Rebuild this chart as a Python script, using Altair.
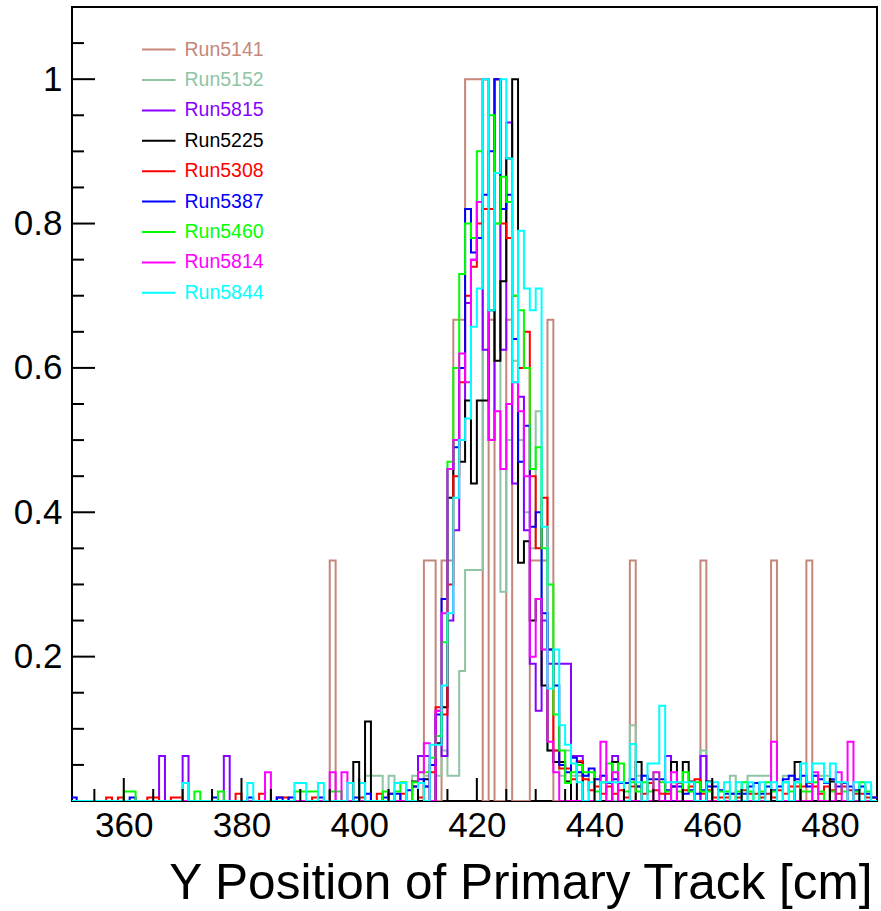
import altair as alt
import pandas as pd

# ---------------- data ----------------
BIN_LO = 351          # left edge of first drawn bin [cm]
BIN_HI = 488          # right edge of last drawn bin [cm]
X_DOMAIN = [351.2, 488.0]

runs = ["Run5141", "Run5152", "Run5815", "Run5225", "Run5308",
        "Run5387", "Run5460", "Run5814", "Run5844"]
colors = ["#c4877a", "#8fc4a4", "#8800ff", "#000000", "#ff0000",
          "#0000ff", "#00ff00", "#ff00ff", "#00ffff"]

# bin left edge -> normalised content (bins not listed are empty)
run5141 = {395: 1/3, 411: 1/3, 412: 1/3, 414: 1/3, 415: 1/3, 416: 2/3, 417: 2/3,
           418: 1.0, 419: 1.0, 420: 1.0, 422: 2/3, 425: 2/3, 429: 1/3, 430: 1/3,
           431: 1/3, 432: 2/3, 446: 1/3, 458: 1/3, 470: 1/3, 476: 1/3}

run5152 = {401: .035, 402: .035, 403: .035, 405: .035, 409: .035, 411: .035, 413: .035,
           414: .07, 415: .035, 416: .035, 417: .18, 418: .32, 419: .32, 420: .32,
           421: 1.0, 422: .68, 423: .80, 424: .29, 425: .50, 426: .61, 427: .50,
           428: .40, 429: .35, 430: .54, 431: .21, 432: .07, 433: .07, 434: .035,
           435: .07, 436: .035, 437: .035, 438: .035, 441: .035, 446: .105, 447: .035,
           448: .035, 458: .07, 463: .035, 466: .035, 467: .035, 468: .035, 469: .035,
           472: .035, 473: .035, 477: .035, 478: .035, 479: .035}

run5815 = {366: .0625, 370: .0625, 377: .0625, 410: .0625, 411: .0625, 413: .125,
           414: .0625, 415: .25, 416: .375, 417: .50, 418: .69, 419: .75, 420: .83,
           421: .625, 422: .50, 423: 1.0, 424: .625, 425: .94, 426: .44, 427: .56,
           428: .375, 429: .19, 430: .125, 431: .25, 432: .19, 433: .19, 434: .19,
           435: .19, 436: .0625, 437: .0625, 443: .0625, 452: .0625, 458: .0625}

run5225 = {399: .054, 401: .11, 409: .027, 411: .03, 413: .08, 414: .13, 415: .42,
           416: .50, 417: .47, 418: .555, 419: .44, 420: .555, 421: .555, 422: .68,
           423: .61, 424: .72, 425: .89, 426: 1.0, 427: .33, 428: .36, 429: .25,
           430: .28, 431: .16, 432: .07, 433: .054, 434: .054, 435: .027, 437: .054,
           443: .054, 447: .054, 453: .054, 455: .054, 456: .027, 459: .027, 474: .054,
           480: .027}

run5308 = {357: .005, 359: .005, 364: .005, 365: .005, 368: .005, 369: .005, 379: .01,
           383: .01, 386: .005, 387: .005, 392: .005, 400: .005, 403: .01, 405: .01,
           407: .01, 409: .02, 410: .005, 411: .02, 412: .04, 413: .13, 414: .12,
           415: .30, 416: .45, 417: .58, 418: .70, 419: .74, 420: .80, 421: .82,
           422: .82, 423: 1.0, 424: .80, 425: .78, 426: .70, 427: .60, 428: .65,
           429: .45, 430: .35, 431: .42, 432: .21, 433: .07, 434: .045, 435: .045,
           436: .03, 437: .055, 438: .03, 439: .015, 440: .02, 441: .01, 442: .02,
           443: .01, 444: .015, 445: .005, 446: .02, 447: .02, 448: .01, 449: .025,
           450: .015, 451: .01, 452: .01, 453: .02, 454: .025, 455: .015, 456: .02,
           457: .03, 458: .01, 459: .015, 460: .005, 461: .005, 462: .005, 463: .01,
           464: .005, 465: .015, 466: .01, 467: .01, 468: .005, 469: .01, 470: .005,
           471: .015, 472: .01, 473: .02, 474: .02, 475: .02, 476: .025, 477: .02,
           478: .01, 479: .02, 480: .015, 481: .01, 482: .02, 483: .015, 484: .01,
           485: .01, 486: .005, 487: .005}

run5387 = {351: .005, 361: .005, 375: .005, 381: .005, 386: .005, 388: .005, 393: .005,
           399: .005, 401: .01, 404: .005, 405: .01, 406: .01, 408: .015, 409: .02,
           410: .03, 411: .02, 412: .05, 413: .12, 414: .28, 415: .46, 416: .49,
           417: .60, 418: .82, 419: .76, 420: .78, 421: .84, 422: .90, 423: 1.0,
           424: .82, 425: .84, 426: .64, 427: .47, 428: .52, 429: .38, 430: .40,
           431: .26, 432: .21, 433: .16, 434: .05, 435: .04, 436: .06, 437: .04,
           438: .035, 439: .045, 440: .03, 441: .035, 442: .025, 443: .03, 444: .025,
           445: .025, 446: .03, 447: .02, 448: .035, 449: .03, 450: .03, 451: .03,
           452: .015, 453: .02, 454: .02, 455: .01, 456: .015, 457: .01, 458: .015,
           459: .02, 460: .02, 461: .015, 462: .01, 463: .01, 464: .01, 465: .01,
           466: .02, 467: .025, 468: .01, 469: .02, 470: .015, 471: .02, 472: .03,
           473: .035, 474: .03, 475: .035, 476: .02, 477: .035, 478: .03, 479: .025,
           480: .03, 481: .02, 482: .025, 483: .02, 484: .015, 485: .02, 486: .01,
           487: .005}

run5460 = {360: .013, 361: .013, 372: .013, 376: .013, 389: .013, 390: .013, 391: .013,
           392: .013, 395: .013, 396: .013, 404: .013, 406: .013, 407: .026, 409: .026,
           410: .04, 411: .04, 412: .06, 413: .09, 414: .22, 415: .47, 416: .60,
           417: .73, 418: .80, 419: .78, 420: .90, 421: 1.0, 422: .95, 423: .80,
           424: .865, 425: .83, 426: .70, 427: .68, 428: .60, 429: .46, 430: .49,
           431: .35, 432: .30, 433: .12, 434: .07, 435: .025, 436: .04, 437: .05,
           438: .04, 439: .04, 440: .013, 441: .026, 442: .052, 443: .04, 444: .052,
           445: .013, 446: .026, 447: .013, 448: .026, 449: .013, 450: .04, 451: .026,
           452: .013, 453: .026, 454: .013, 455: .04, 456: .013, 457: .026, 458: .013,
           459: .013, 461: .013, 462: .013, 464: .013, 465: .026, 466: .013, 468: .013,
           469: .026, 470: .013, 472: .026, 473: .013, 474: .026, 475: .013, 476: .013,
           477: .026, 478: .013, 480: .013, 481: .026, 482: .013, 484: .013, 485: .026,
           486: .013}

run5814 = {384: .04, 395: .04, 397: .04, 410: .04, 411: .08, 413: .125, 414: .26,
           415: .46, 416: .50, 417: .62, 418: .58, 419: .75, 420: .83, 421: 1.0,
           422: .50, 423: .54, 424: .46, 425: .55, 426: .58, 427: .54, 428: .45,
           429: .20, 430: .28, 431: .21, 432: .082, 433: .04, 441: .082, 443: .04,
           450: .04, 453: .04, 470: .082, 477: .04, 481: .04, 483: .082}

run5844 = {370: .025, 381: .025, 389: .025, 390: .025, 393: .025, 398: .025, 400: .025,
           406: .025, 407: .025, 410: .025, 412: .078, 413: .078, 414: .16, 415: .26,
           416: .42, 417: .50, 418: .53, 419: .657, 420: .71, 421: 1.0, 422: .68,
           423: .87, 424: 1.0, 425: .89, 426: .58, 427: .79, 428: .71, 429: .68,
           430: .71, 431: .38, 432: .156, 433: .21, 434: .105, 435: .078, 436: .052,
           437: .026, 439: .026, 441: .026, 442: .026, 443: .026, 444: .026, 446: .079,
           447: .026, 449: .052, 450: .052, 451: .132, 452: .026, 453: .026, 454: .026,
           455: .026, 456: .026, 459: .026, 460: .026, 462: .026, 464: .026, 466: .026,
           468: .026, 470: .026, 472: .026, 474: .026, 475: .052, 476: .026, 477: .052,
           478: .052, 479: .026, 480: .052, 481: .026, 482: .026, 484: .026, 486: .026}

series = [run5141, run5152, run5815, run5225, run5308, run5387, run5460, run5814, run5844]

x_major = [360, 380, 400, 420, 440, 460, 480]
x_minor = [355, 365, 370, 375, 385, 390, 395, 405, 410, 415, 425, 430, 435,
           445, 450, 455, 465, 470, 475, 485]
y_major = [0.2, 0.4, 0.6, 0.8, 1.0]
y_minor = [0.05, 0.1, 0.15, 0.25, 0.3, 0.35, 0.45, 0.5, 0.55, 0.65, 0.7, 0.75,
           0.85, 0.9, 0.95, 1.05]

# ---------------- chart ----------------
W, H = 805, 794
FONT = "Liberation Sans"

xscale = alt.Scale(domain=X_DOMAIN, nice=False, zero=False)
yscale = alt.Scale(domain=[0, 1.1], nice=False, zero=False)

xaxis = alt.Axis(values=x_major, format="d", ticks=False, domain=False, grid=False,
                 labelFont=FONT, labelFontSize=35, labelPadding=7, labelColor="black",
                 title="Y Position of Primary Track [cm]", titleFont=FONT,
                 titleFontSize=49.5, titleFontWeight="normal", titleColor="black",
                 titleAlign="right", titleBaseline="alphabetic", titleX=W - 5, titleY=97)
yaxis = alt.Axis(values=y_major, ticks=False, domain=False, grid=False,
                 labelExpr="datum.value >= 0.99 ? '1' : format(datum.value, '.1f')",
                 labelFont=FONT, labelFontSize=35, labelPadding=10, labelColor="black",
                 title=None)

layers = []
for name, col, vals in zip(runs, colors, series):
    xs = list(range(BIN_LO, BIN_HI))
    ys = [vals.get(b, 0.0) for b in xs]
    xs = xs + [BIN_HI]
    ys = ys + [ys[-1]]
    df = pd.DataFrame({"x": xs, "v": ys, "run": name})
    layers.append(
        alt.Chart(df).mark_line(interpolate="step-after", strokeWidth=2, color=col,
                                clip=True)
        .encode(x=alt.X("x:Q", scale=xscale, axis=xaxis),
                y=alt.Y("v:Q", scale=yscale, axis=yaxis))
    )

def yticks(vals, length):
    return alt.Chart(pd.DataFrame({"v": vals})).mark_rule(color="black", strokeWidth=2).encode(
        y=alt.Y("v:Q", scale=yscale, axis=yaxis), x=alt.value(0), x2=alt.value(length))

def xticks(vals, length):
    return alt.Chart(pd.DataFrame({"x": vals})).mark_rule(color="black", strokeWidth=2).encode(
        x=alt.X("x:Q", scale=xscale, axis=xaxis), y=alt.value(H), y2=alt.value(H - length))

tick_layers = [yticks(y_major, 23), yticks(y_minor, 12), xticks(x_major, 23), xticks(x_minor, 12)]

legend_layers = []
for i, (name, col) in enumerate(zip(runs, colors)):
    ly = 42.6 + 30.4 * i
    ldf = pd.DataFrame({"run": [name]})
    legend_layers.append(
        alt.Chart(ldf).mark_rule(color=col, strokeWidth=2).encode(
            x=alt.value(70), x2=alt.value(103.5), y=alt.value(ly)))
    legend_layers.append(
        alt.Chart(ldf).mark_text(color=col, font=FONT, fontSize=19.5, align="left",
                                 baseline="middle").encode(
            x=alt.value(112.5), y=alt.value(ly), text="run:N"))

chart = alt.layer(*layers, *tick_layers, *legend_layers).properties(
    width=W, height=H, autosize="none",
    padding={"left": 72, "top": 7, "right": 4, "bottom": 110},
    background="white",
).configure_view(stroke="black", strokeWidth=2)

chart.save("out.html", embed_options={"renderer": "svg", "actions": False})
